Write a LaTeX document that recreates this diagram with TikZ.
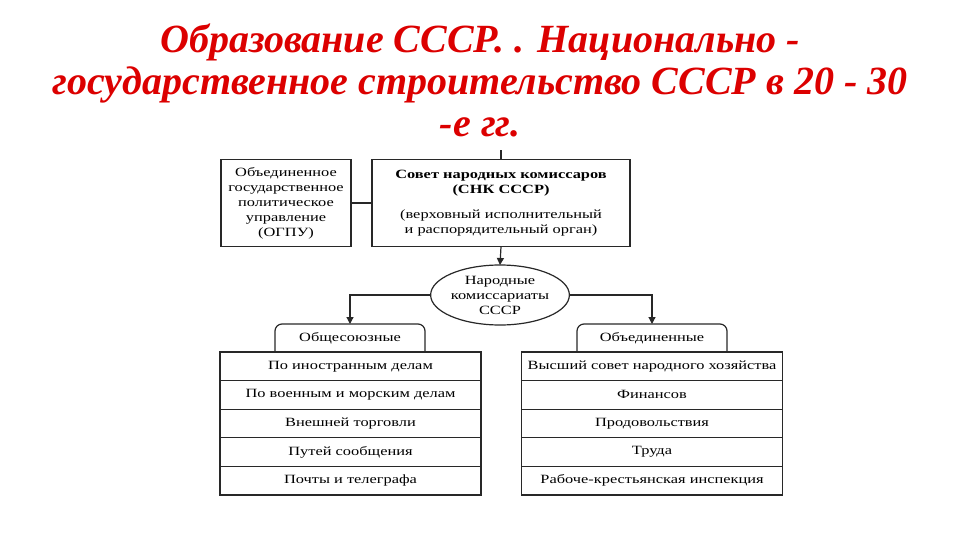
\documentclass[tikz,border=0pt]{standalone}
\usepackage{fontspec}
\setmainfont{Liberation Serif}
\newfontfamily\diagfont[FakeStretch=1.3]{Liberation Serif}
\newfontfamily\titlefont{Liberation Serif}
\definecolor{linegray}{RGB}{40,40,40}
\definecolor{titlered}{RGB}{220,0,0}
\usetikzlibrary{shapes.geometric,arrows.meta}
\begin{document}
\begin{tikzpicture}[x=1pt,y=-1pt,line width=1.2pt,every node/.style={outer sep=0pt, inner sep=1pt, align=center, font=\diagfont\fontsize{12.6}{15}\selectfont},
  box/.style={draw=linegray, minimum width=130, minimum height=87},
  row/.style={draw=linegray, minimum width=261, minimum height=28.6},
  tab/.style={minimum width=150, minimum height=28},
  arr/.style={draw=linegray, -{Triangle[width=7pt,length=7pt]}}]
\useasboundingbox[fill=white] (0,0) rectangle (960,540);
\node[font=\titlefont\bfseries\itshape\fontsize{40}{42}\selectfont, text=titlered] (title) at (480,80) {Образование СССР. . Национально -\\государственное строительство СССР в 20 - 30\\-е гг.};
\node[box] (ogpu) at (286,203) {Объединенное\\государственное\\политическое\\управление\\(ОГПУ)};
\node[box, minimum width=258] (snk) at (501,203) {\textbf{Совет народных комиссаров}\\\textbf{(СНК СССР)}\\[10pt](верховный исполнительный\\и распорядительный орган)};
\coordinate (stub) at (501,150);
\node[ellipse, draw=linegray, minimum width=135, minimum height=60, inner sep=0pt] (ncom) at (500,295) {Народные\\комиссариаты\\СССР};
\node[tab] (obsh) at (350,338) {Общесоюзные};
\node[tab] (obed) at (652,338) {Объединенные};
\node[row] (obsh1) at (350.5,366.3) {По иностранным делам};
\node[row] (obsh2) at (350.5,394.9) {По военным и морским делам};
\node[row] (obsh3) at (350.5,423.5) {Внешней торговли};
\node[row] (obsh4) at (350.5,452.1) {Путей сообщения};
\node[row] (obsh5) at (350.5,480.7) {Почты и телеграфа};
\node[row] (obed1) at (652,366.3) {Высший совет народного хозяйства};
\node[row] (obed2) at (652,394.9) {Финансов};
\node[row] (obed3) at (652,423.5) {Продовольствия};
\node[row] (obed4) at (652,452.1) {Труда};
\node[row] (obed5) at (652,480.7) {Рабоче-крестьянская инспекция};
\draw[draw=linegray,rounded corners=7pt] (obsh.south west) -- (obsh.north west) -- (obsh.north east) -- (obsh.south east);
\draw[draw=linegray,rounded corners=7pt] (obed.south west) -- (obed.north west) -- (obed.north east) -- (obed.south east);
\draw[draw=linegray] (snk.north) -- (stub);
\draw[draw=linegray] (ogpu) -- (snk);
\draw[arr] (snk.south) -- (ncom.north);
\draw[arr] (ncom.west) -| (obsh.north);
\draw[arr] (ncom.east) -| (obed.north);
\end{tikzpicture}
\end{document}
